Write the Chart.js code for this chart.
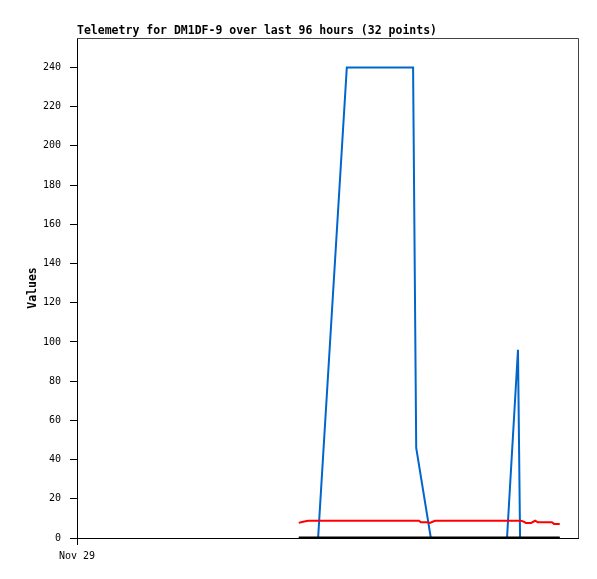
<!DOCTYPE html>
<html>
<head>
<meta charset="utf-8">
<script src="https://cdn.jsdelivr.net/npm/chart.js@4/dist/chart.umd.min.js"></script>
<style>
  body { margin: 0; background: #fff; }
  #wrap { width: 597px; height: 579px; }
</style>
</head>
<body>
<div id="wrap"><canvas id="myChart" width="597" height="579"></canvas></div>
<script>
// hours since Nov 29 00:00
var blueHours = [42.5, 46.2, 51.7, 64.4, 65.0, 67.8, 82.4, 84.5, 84.9, 92.5];
var blueValues = [0, 0, 240, 240, 46, 0, 0, 96, 0, 0];

var redHours = [42.5, 43.1, 44.3, 65.5, 65.9, 67.1, 67.6, 68.6, 85.1, 85.7, 86.0, 87.0, 87.8, 88.3, 91.0, 91.4, 92.5];
var redValues = [7.7, 8.2, 8.8, 8.8, 8.0, 8.0, 7.7, 8.8, 8.8, 8.2, 7.7, 7.7, 8.8, 8.0, 8.0, 7.2, 7.2];

var blackHours = [42.5, 92.5];
var blackValues = [0, 0];

var xTickHours = [0];
var xTickLabels = ['Nov 29'];
var titleText = 'Telemetry for DM1DF-9 over last 96 hours (32 points)';

function toPoints(xs, ys){
  var pts = [];
  for(var i=0; i<xs.length; i++){
    pts.push({x: xs[i], y: ys[i]});
  }
  return pts;
}

var mono = '"DejaVu Sans Mono", "Liberation Mono", monospace';

// title above plot + grey top/right frame
var framePlugin = {
  id: 'frame',
  beforeDatasetsDraw: function(chart){
    var a = chart.chartArea;
    var c = chart.ctx;
    c.save();
    c.strokeStyle = '#444444';
    c.lineWidth = 1;
    c.beginPath();
    c.moveTo(a.left, a.top + 0.5);
    c.lineTo(a.right + 0.5, a.top + 0.5);
    c.lineTo(a.right + 0.5, a.bottom);
    c.stroke();
    c.restore();
  },
  afterDraw: function(chart){
    var c = chart.ctx;
    c.save();
    c.font = 'bold 11.5px ' + mono;
    c.fillStyle = '#000';
    c.textAlign = 'left';
    c.textBaseline = 'middle';
    c.fillText(titleText, chart.chartArea.left, 31);
    c.restore();
  }
};

var ctx = document.getElementById('myChart').getContext('2d');
var myChart = new Chart(ctx, {
  type: 'line',
  data: {
    datasets: [{
      label: 'black',
      data: toPoints(blackHours, blackValues),
      borderColor: '#000000',
      borderWidth: 3,
      pointRadius: 0,
      fill: false,
      order: 1
    }, {
      label: 'red',
      data: toPoints(redHours, redValues),
      borderColor: '#ff0000',
      borderWidth: 2,
      pointRadius: 0,
      fill: false,
      order: 2
    }, {
      label: 'blue',
      data: toPoints(blueHours, blueValues),
      borderColor: '#0066cc',
      borderWidth: 2,
      pointRadius: 0,
      fill: false,
      order: 3
    }]
  },
  options: {
    responsive: false,
    animation: false,
    layout: { padding: { top: 38, right: 19, left: 0, bottom: 0 } },
    plugins: {
      legend: { display: false },
      tooltip: { enabled: false }
    },
    scales: {
      x: {
        type: 'linear',
        min: 0,
        max: 96,
        afterFit: function(s){ s.height = 41; },
        afterBuildTicks: function(s){
          s.ticks = xTickHours.map(function(v){ return {value: v}; });
        },
        ticks: {
          autoSkip: false,
          maxRotation: 0,
          padding: 5,
          color: '#000',
          font: { family: mono, size: 10 },
          callback: function(v){
            var i = xTickHours.indexOf(v);
            return i >= 0 ? xTickLabels[i] : '';
          }
        },
        grid: { drawOnChartArea: false, drawTicks: true, tickLength: 7, color: '#000' },
        border: { display: true, color: '#000', width: 1 }
      },
      y: {
        min: 0,
        max: 255,
        afterFit: function(s){ s.width = 77; },
        ticks: {
          stepSize: 20,
          includeBounds: false,
          padding: 9,
          color: '#000',
          font: { family: mono, size: 10 }
        },
        title: {
          display: true,
          text: 'Values',
          color: '#000',
          font: { family: mono, size: 11.5, weight: 'bold' },
          padding: { top: 26, bottom: 0 }
        },
        grid: { drawOnChartArea: false, drawTicks: true, tickLength: 7, color: '#000' },
        border: { display: true, color: '#000', width: 1 }
      }
    }
  },
  plugins: [framePlugin]
});
</script>
</body>
</html>
